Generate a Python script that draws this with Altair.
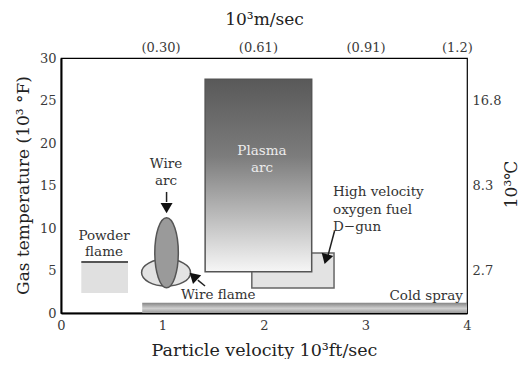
import altair as alt
import pandas as pd

FONT = "DejaVu Serif"

# Process regions (x: 10^3 ft/sec, y: 10^3 °F)
proc_name = ["Cold spray", "HVOF", "Plasma arc", "Powder flame"]
proc_x1 = [0.80, 1.88, 1.42, 0.20]
proc_x2 = [4.00, 2.69, 2.47, 0.66]
proc_y1 = [0.00, 2.95, 4.85, 2.35]
proc_y2 = [1.20, 7.05, 27.5, 6.00]

# Ellipse centres
ell_name = ["Wire flame", "Wire arc"]
ell_x = [1.035, 1.04]
ell_y = [4.75, 7.10]

# Annotation arrows
arr_name = ["Wire arc", "Wire flame", "HVOF"]
arr_x_tail = [1.040, 1.419, 2.695]
arr_y_tail = [14.24, 3.18, 9.65]
arr_x_base = [1.040, 1.348, 2.628]
arr_y_base = [13.06, 3.86, 6.65]
arr_x_head = [1.040, 1.304, 2.611]
arr_y_head = [12.35, 4.34, 6.33]
arr_angle = [0, 133, 16]

# Annotation text lines
txt_label = ["Powder", "flame", "Wire", "arc", "Plasma", "arc",
             "High velocity", "oxygen fuel", "D\u2212gun", "Wire flame", "Cold spray"]
txt_x = [0.424, 0.424, 1.034, 1.034, 1.98, 1.98, 2.68, 2.68, 2.68, 1.182, 3.96]
txt_y = [9.06, 7.18, 17.53, 15.53, 19.06, 17.06, 14.24, 12.12, 10.12, 2.12, 2.0]
txt_grp = ["c", "c", "c", "c", "light", "light", "l", "l", "l", "l", "r"]

# Axis ticks
bottom_ticks = [0, 1, 2, 3, 4]
left_ticks = [0, 5, 10, 15, 20, 25, 30]
top_pos = [0.98, 1.94, 3.0, 3.9]
top_labels = ["(0.30)", "(0.61)", "(0.91)", "(1.2)"]
right_pos = [25, 15, 5]
right_labels = ["16.8", "8.3", "2.7"]

procs = pd.DataFrame({"name": proc_name, "x": proc_x1, "x2": proc_x2,
                      "y": proc_y1, "y2": proc_y2})
ells = pd.DataFrame({"name": ell_name, "x": ell_x, "y": ell_y})
arr_lines = pd.DataFrame({"name": arr_name, "x": arr_x_tail, "y": arr_y_tail,
                          "x2": arr_x_base, "y2": arr_y_base})
arr_heads = pd.DataFrame({"name": arr_name, "x": arr_x_head, "y": arr_y_head,
                          "angle": arr_angle})
texts = pd.DataFrame({"label": txt_label, "x": txt_x, "y": txt_y, "grp": txt_grp})
axis_df = pd.DataFrame({"xt": [0, 4], "yr": [0, 30]})

bottom_axis = alt.Axis(
    orient="bottom", values=bottom_ticks, ticks=False, grid=False,
    domainColor="black", domainWidth=2, labelFont=FONT, labelFontSize=13,
    labelColor="#3a3a3a", labelPadding=6, labelFlush=False, labelOverlap=False,
    title="Particle velocity 10\u00b3ft/sec", titleFont=FONT, titleFontSize=17.5,
    titleFontWeight="normal", titleColor="#222", titleY=42,
    titleBaseline="alphabetic")
left_axis = alt.Axis(
    orient="left", values=left_ticks, ticks=False, grid=False,
    domainColor="black", domainWidth=2, labelFont=FONT, labelFontSize=13,
    labelColor="#3a3a3a", labelPadding=5, labelFlush=False, labelOverlap=False,
    title="Gas temperature (10\u00b3 \u00b0F)", titleFont=FONT, titleFontSize=17,
    titleFontWeight="normal", titleColor="#222", titleAngle=270, titleX=-38,
    titleY=127, titleBaseline="middle", titleAlign="center")

top_expr = "[" + ",".join("'%s'" % s for s in top_labels) + "][indexof([" + \
    ",".join(str(v) for v in top_pos) + "], datum.value)]"
right_expr = "[" + ",".join("'%s'" % s for s in right_labels) + "][indexof([" + \
    ",".join(str(v) for v in right_pos) + "], datum.value)]"

top_axis = alt.Axis(
    orient="top", values=top_pos, labelExpr=top_expr, ticks=False, grid=False,
    domain=False, labelFont=FONT, labelFontSize=13, labelColor="#3a3a3a",
    labelPadding=4, labelFlush=False, labelOverlap=False,
    title="10\u00b3m/sec", titleFont=FONT, titleFontSize=17, titleFontWeight="normal",
    titleColor="#222", titleY=-39, titleBaseline="middle")
right_axis = alt.Axis(
    orient="right", values=right_pos, labelExpr=right_expr, ticks=False, grid=False,
    domain=False, labelFont=FONT, labelFontSize=13, labelColor="#3a3a3a",
    labelPadding=5, labelFlush=False, labelOverlap=False,
    title="10\u00b3\u2103", titleFont=FONT, titleFontSize=17, titleFontWeight="normal",
    titleColor="#222", titleAngle=270, titleX=44, titleY=126,
    titleBaseline="middle", titleAlign="center")

xs = alt.Scale(domain=[0, 4], nice=False, zero=False)
ys = alt.Scale(domain=[0, 30], nice=False, zero=False)
X = alt.X("x:Q", scale=xs, axis=bottom_axis)
Y = alt.Y("y:Q", scale=ys, axis=left_axis)

def pfilter(base, name):
    return base.transform_filter(alt.datum.name == name)

cold = pfilter(alt.Chart(procs), "Cold spray").mark_rect(
    fill={"gradient": "linear", "x1": 0, "x2": 0, "y1": 0, "y2": 1,
          "stops": [{"offset": 0, "color": "#858585"},
                    {"offset": 0.55, "color": "#cfcfcf"},
                    {"offset": 1, "color": "#9a9a9a"}]}
).encode(x=X, x2="x2:Q", y=Y, y2="y2:Q")

hvof = pfilter(alt.Chart(procs), "HVOF").mark_rect(
    fill="#e3e3e3", stroke="#666666", strokeWidth=1.5
).encode(x=X, x2="x2:Q", y=Y, y2="y2:Q")

plasma = pfilter(alt.Chart(procs), "Plasma arc").mark_rect(
    fill={"gradient": "linear", "x1": 0, "x2": 0, "y1": 0, "y2": 1,
          "stops": [{"offset": 0, "color": "#595959"},
                    {"offset": 0.4, "color": "#7c7c7c"},
                    {"offset": 1, "color": "#f6f6f6"}]},
    stroke="#555555", strokeWidth=1.5
).encode(x=X, x2="x2:Q", y=Y, y2="y2:Q")

powder = pfilter(alt.Chart(procs), "Powder flame").mark_rect(
    fill="#e0e0e0"
).encode(x=X, x2="x2:Q", y=Y, y2="y2:Q")

powder_top = pfilter(alt.Chart(procs), "Powder flame").mark_rule(
    color="#555555", strokeWidth=2
).encode(x=X, x2="x2:Q", y=alt.Y("y2:Q", scale=ys, axis=left_axis))

flame_ell = pfilter(alt.Chart(ells), "Wire flame").mark_point(
    shape="M -1 0 A 1 0.551 0 1 1 1 0 A 1 0.551 0 1 1 -1 0 Z",
    filled=True, fill="#e3e3e3", stroke="#555555", strokeWidth=1.5,
    size=2401, opacity=1
).encode(x=X, y=Y)

arc_ell = pfilter(alt.Chart(ells), "Wire arc").mark_point(
    shape="M 0 -1 A 0.336 1 0 1 1 0 1 A 0.336 1 0 1 1 0 -1 Z",
    filled=True, fill="#9a9a9a", stroke="#555555", strokeWidth=1.5,
    size=4900, opacity=1
).encode(x=X, y=Y)

lines = alt.Chart(arr_lines).mark_rule(color="#222", strokeWidth=1.5).encode(
    x=X, y=Y, x2="x2:Q", y2="y2:Q")

heads = alt.Chart(arr_heads).mark_point(
    shape="M -1 -0.85 L 1 -0.85 L 0 0.85 Z", filled=True, fill="#111111",
    strokeWidth=0, size=144, opacity=1
).encode(x=X, y=Y, angle=alt.Angle("angle:Q", scale=None))

def tlayer(grp, align, color):
    return alt.Chart(texts).transform_filter(alt.datum.grp == grp).mark_text(
        font=FONT, fontSize=13.5, color=color, align=align, baseline="middle"
    ).encode(x=X, y=Y, text="label:N")

t_c = tlayer("c", "center", "#333333")
t_light = tlayer("light", "center", "#ececec")
t_l = tlayer("l", "left", "#333333")
t_r = tlayer("r", "right", "#333333")

axes_layer = alt.Chart(axis_df).mark_point(opacity=0).encode(
    x=alt.X("xt:Q", scale=alt.Scale(domain=[0, 4], nice=False, zero=False), axis=top_axis),
    y=alt.Y("yr:Q", scale=alt.Scale(domain=[0, 30], nice=False, zero=False), axis=right_axis))

main = alt.layer(cold, hvof, plasma, powder, powder_top, flame_ell, arc_ell,
                 lines, heads, t_c, t_light, t_l, t_r)

chart = alt.layer(main, axes_layer).resolve_scale(
    x="independent", y="independent"
).properties(
    width=406, height=255,
    autosize=alt.AutoSizeParams(type="none"),
    padding={"left": 53, "top": 50, "right": 55, "bottom": 46},
    background="white"
).configure_view(stroke="black", strokeWidth=1.2)

chart.save("out.html", embed_options={"renderer": "svg", "actions": False})
